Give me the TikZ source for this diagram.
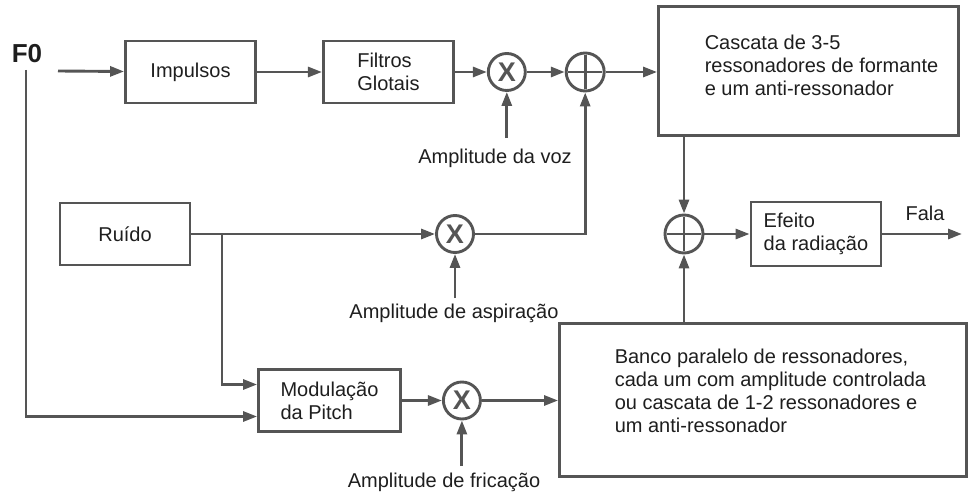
\documentclass[tikz,border=0pt]{standalone}
\usepackage{fontspec}
\setmainfont{Liberation Sans}
\usetikzlibrary{positioning,arrows.meta}
\definecolor{mygray}{RGB}{85,85,85}
\definecolor{mytext}{RGB}{30,30,30}

\begin{document}
\begin{tikzpicture}[x=1pt,y=-1pt,line width=2.9pt,color=mygray,
  >={Triangle[length=14pt,width=10pt]},
  every node/.style={text=mytext,font=\fontsize{20}{23}\selectfont},
  blk/.style={draw,rectangle,minimum width=130pt,minimum height=62pt,align=left,inner sep=0pt},
  mult/.style={draw,circle,minimum size=37pt,inner sep=0pt,text=mygray,
    font=\fontsize{27}{27}\selectfont\bfseries},
  summ/.style={draw,circle,minimum size=38pt,inner sep=0pt,
    path picture={\draw[line width=2.6pt]
      ([xshift=-17pt]path picture bounding box.center) -- ([xshift=17pt]path picture bounding box.center)
      ([yshift=-17pt]path picture bounding box.center) -- ([yshift=17pt]path picture bounding box.center);}},
  lbl/.style={inner sep=1pt}]

  \useasboundingbox (0,0) rectangle (970,494);

  % voiced branch
  \node[font=\fontsize{26}{26}\selectfont\bfseries] (f0) at (27,54) {F0};
  \coordinate (f0in) at (58,71);
  \coordinate (f0down) at (26,70);

  \node[blk] (impulsos) at (190.5,72) {Impulsos};
  \node[blk,right=65pt of impulsos] (filtros) {Filtros\\Glotais};
  \node[mult,right=32pt of filtros] (mult1) {X};
  \node[summ,right=38pt of mult1] (plus1) {};

  \node[blk,minimum width=300pt,minimum height=129pt] (casc) at (808.5,71) {};
  \node[anchor=west,align=left] (casctext) at (700,65)
    {Cascata de 3-5\\ressonadores de formante\\e um anti-ressonador};

  \node[lbl] (voz) at (495,158) {Amplitude da voz};

  % noise branch
  \node[blk] (ruido) at (125,234) {Ruído};
  \node[mult] (mult2) at (455,234) {X};
  \node[lbl] (aspir) at (454,313) {Amplitude de aspiração};
  \coordinate (brx) at (222,0);

  \node[blk,minimum width=142pt] (mod) at (329.5,400.5) {Modulação\\da Pitch};
  \node[mult,right=40pt of mod] (mult3) {X};
  \node[lbl] (fric) at (444,482) {Amplitude de fricação};

  \node[blk,minimum width=407pt,minimum height=153pt] (banco) at (763,400) {};
  \node[anchor=west,align=left] (bancotext) at (610,391)
    {Banco paralelo de ressonadores,\\cada um com amplitude controlada\\ou cascata de 1-2 ressonadores e\\um anti-ressonador};

  % output
  \node[summ] (plus2) at (684,234) {};
  \node[blk,minimum height=64pt] (efeito) at (816,234) {Efeito\\da radiação};
  \coordinate (fala) at (962,234);
  \node (falatxt) at (925,213) {Fala};

  % connectors top row
  \draw[->] (f0in) -- (impulsos);
  \draw[->] (impulsos) -- (filtros);
  \draw[->] (filtros) -- (mult1);
  \draw[->] (mult1) -- (plus1);
  \draw[->] (plus1) -- (plus1 -| casc.west);
  \draw[->] ([yshift=8pt]voz.north -| mult1) -- (mult1);

  % connectors noise and fricative
  \draw[->] (ruido) -- (mult2);
  \draw[->] ([yshift=3pt]aspir.north -| mult2) -- (mult2);
  \draw[->] (mult2) -| (plus1);
  \draw[->] (ruido.east -| brx) |- ([yshift=16pt]mod.west);
  \draw[->] (f0down) |- ([yshift=-16pt]mod.west);
  \draw[->] (mod) -- (mult3);
  \draw[->] ([yshift=4pt]fric.north -| mult3) -- (mult3);
  \draw[->] (mult3) -- (mult3 -| banco.west);

  % connectors to the output
  \draw[->] (plus2 |- casc.south) -- (plus2);
  \draw[->] (plus2 |- banco.north) -- (plus2);
  \draw[->] (plus2) -- (efeito);
  \draw[->] (efeito) -- (fala);

\end{tikzpicture}
\end{document}
